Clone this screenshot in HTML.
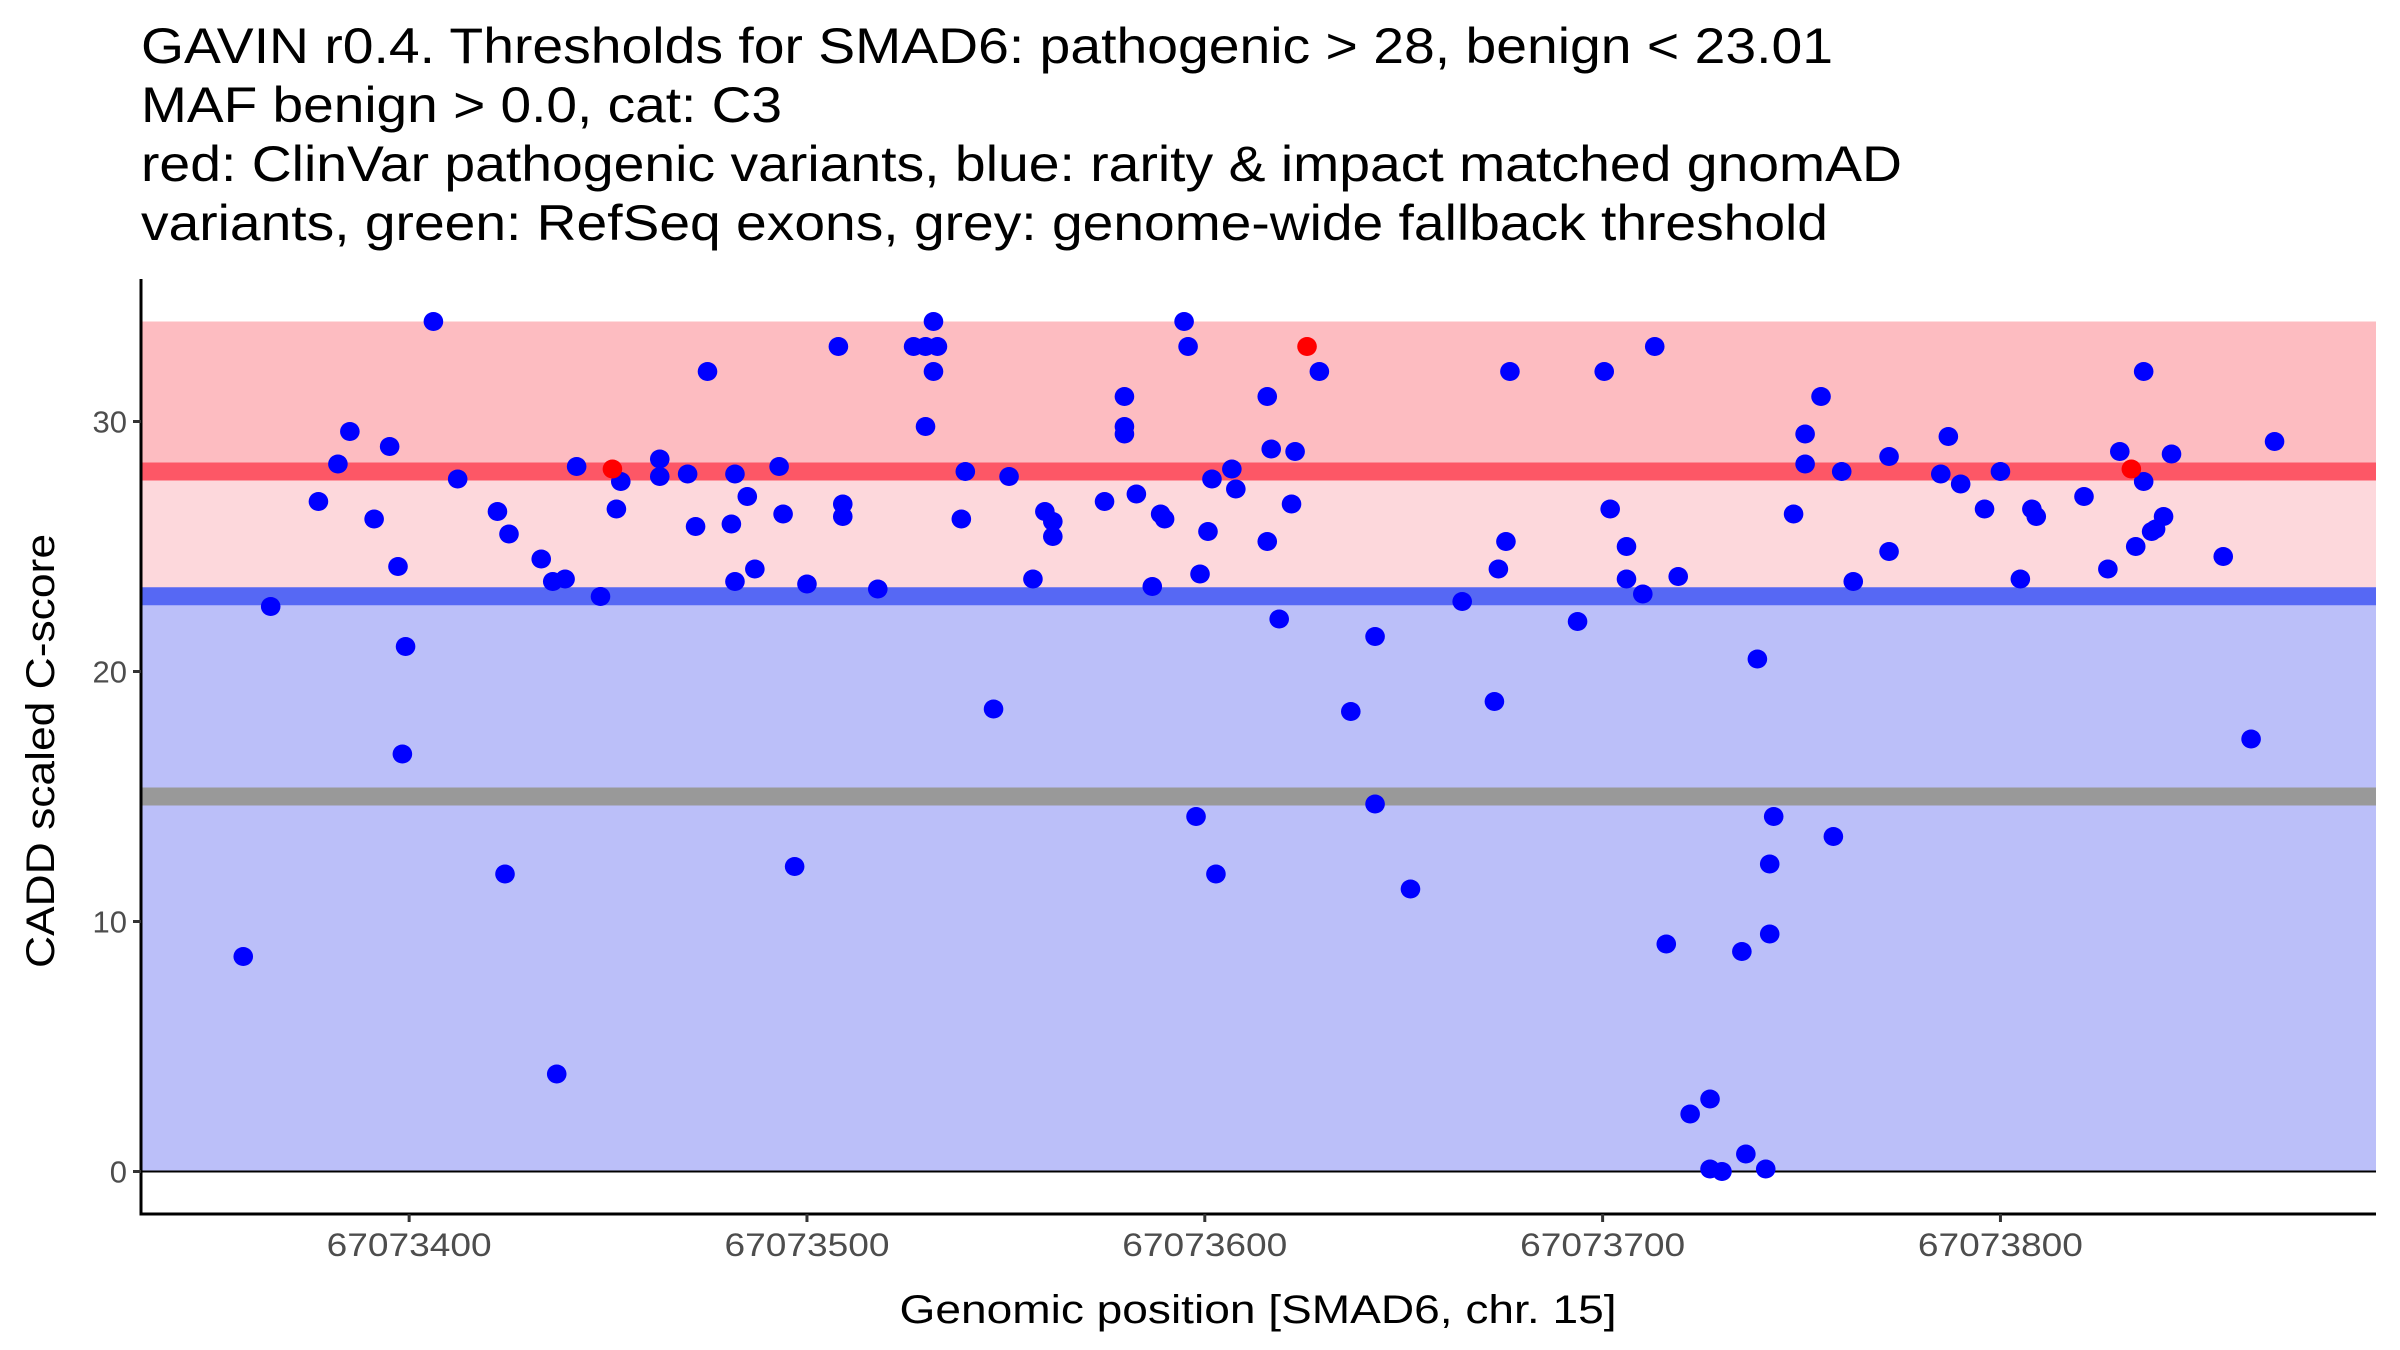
<!DOCTYPE html>
<html><head><meta charset="utf-8">
<style>
html,body{margin:0;padding:0;background:#fff;}
svg{display:block;font-family:"Liberation Sans",Arial,sans-serif;}
</style></head>
<body>
<svg id="chart" width="2400" height="1350" viewBox="0 0 2400 1350" xmlns="http://www.w3.org/2000/svg">
<rect width="2400" height="1350" fill="#fff"/>
<g font-size="50" fill="#000">
<text x="141" y="63" textLength="1692" lengthAdjust="spacingAndGlyphs">GAVIN r0.4. Thresholds for SMAD6: pathogenic &gt; 28, benign &lt; 23.01</text>
<text x="141" y="122" textLength="641" lengthAdjust="spacingAndGlyphs">MAF benign &gt; 0.0, cat: C3</text>
<text x="141" y="181" textLength="1761" lengthAdjust="spacingAndGlyphs">red: ClinVar pathogenic variants, blue: rarity &amp; impact matched gnomAD</text>
<text x="141" y="240" textLength="1687" lengthAdjust="spacingAndGlyphs">variants, green: RefSeq exons, grey: genome-wide fallback threshold</text>
</g>
<g id="bands"></g>
<g id="points"></g>
<g id="axes"></g>
<text x="1258" y="1323" font-size="40" text-anchor="middle" textLength="717" lengthAdjust="spacingAndGlyphs">Genomic position [SMAD6, chr. 15]</text>
<text transform="translate(54,751) rotate(-90)" font-size="40" text-anchor="middle" textLength="434" lengthAdjust="spacingAndGlyphs">CADD scaled C-score</text>
</svg>
<script>
const xOffset = 67073000;
const blueX = [358.3,365.2,377.2,382.1,385.1,391.2,395.1,397.2,399.1,398.3,406.1,412.2,422.2,424.1,425.1,433.2,436.1,437.1,439.2,442.1,448.1,452.1,453.2,463.0,463.0,470.0,472.0,475.0,481.0,481.9,481.9,485.0,486.9,493.0,494.0,496.9,
500.0,507.9,509.0,509.0,517.8,526.8,529.8,532.8,531.8,531.8,529.8,539.8,538.8,546.9,550.8,556.8,559.8,561.8,561.8,574.8,579.8,579.8,579.8,582.8,586.8,588.9,589.9,594.8,595.8,597.8,598.8,600.8,601.8,602.8,606.8,607.8,615.7,615.7,616.7,618.7,621.8,622.7,628.8,636.7,642.8,642.8,651.7,664.7,672.8,673.8,675.7,676.7,693.7,
700.4,701.9,706.0,706.0,710.1,713.1,716.0,719.0,722.0,727.0,727.0,730.0,735.0,736.0,738.9,741.0,742.0,742.0,743.0,748.0,750.9,750.9,754.9,758.0,760.1,763.0,772.0,772.0,785.0,786.9,790.0,796.0,800.0,805.0,807.9,809.0,821.0,827.0,830.0,834.0,836.0,836.0,838.0,839.0,841.0,843.0,856.0,863.0,868.9];
const blueY = [8.6,22.6,26.8,28.3,29.6,26.1,29.0,24.2,21.0,16.7,34.0,27.7,26.4,11.9,25.5,24.5,23.6,3.9,23.7,28.2,23.0,26.5,27.6,28.5,27.8,27.9,25.8,32.0,25.9,27.9,23.6,27.0,24.1,28.2,26.3,12.2,
23.5,33.0,26.7,26.2,23.3,33.0,33.0,33.0,34.0,32.0,29.8,28.0,26.1,18.5,27.8,23.7,26.4,26.0,25.4,26.8,31.0,29.8,29.5,27.1,23.4,26.3,26.1,34.0,33.0,14.2,23.9,25.6,27.7,11.9,28.1,27.3,31.0,25.2,28.9,22.1,26.7,28.8,32.0,18.4,21.4,14.7,11.3,22.8,18.8,24.1,25.2,32.0,22.0,
32.0,26.5,25.0,23.7,23.1,33.0,9.1,23.8,2.3,2.9,0.1,0.0,8.8,0.7,20.5,0.1,12.3,9.5,14.2,26.3,29.5,28.3,31.0,13.4,28.0,23.6,28.6,24.8,27.9,29.4,27.5,26.5,28.0,23.7,26.5,26.2,27.0,24.1,28.8,25.0,32.0,27.6,25.6,25.7,26.2,28.7,24.6,17.3,29.2];
const redX = [451.1,625.7,832.9];
const redY = [28.1,33.0,28.1];
const thresholds = {pathogenic:28, benign:23.01, fallback:15, top:34};
const xTicks = [67073400,67073500,67073600,67073700,67073800];
const yTicks = [0,10,20,30];

const NS="http://www.w3.org/2000/svg";
const L=141,R=2376,T=279,B=1214;
const xMin=67073332.6,xMax=67073894.4,yMin=-1.7,yMax=35.7;
function sx(v){return L+(v-xMin)/(xMax-xMin)*(R-L);}
function sy(v){return B-(v-yMin)/(yMax-yMin)*(B-T);}
function mk(tag,attrs,parent){const e=document.createElementNS(NS,tag);for(const k in attrs)e.setAttribute(k,attrs[k]);parent.appendChild(e);return e;}

const bands=document.getElementById('bands');
let e;
e=mk('rect',{x:L,y:sy(thresholds.top),width:R-L,height:sy(thresholds.benign)-sy(thresholds.top),fill:'#fdd8dc'},bands);


e=mk('rect',{x:L,y:sy(thresholds.top),width:R-L,height:sy(thresholds.pathogenic)-sy(thresholds.top),fill:'#fdbcc1'},bands);


e=mk('rect',{x:L,y:sy(thresholds.benign),width:R-L,height:sy(0)-sy(thresholds.benign),fill:'#bbbff9'},bands);


e=mk('rect',{x:L,y:sy(thresholds.pathogenic)-9,width:R-L,height:18,fill:'#fd5766'},bands);


e=mk('rect',{x:L,y:sy(thresholds.benign)-9,width:R-L,height:18,fill:'#5668f4'},bands);


e=mk('rect',{x:L,y:sy(thresholds.fallback)-9,width:R-L,height:18,fill:'#999999'},bands);


e=mk('line',{x1:L,x2:R,y1:sy(0),y2:sy(0),stroke:'#000','stroke-width':2},bands);



const pts=document.getElementById('points');
for(let i=0;i<blueX.length;i++){
  const c=mk('ellipse',{cx:sx(xOffset+blueX[i]),cy:sy(blueY[i]),rx:9.8,ry:9.5,fill:'#0000ff'},pts);
  
  
}
for(let i=0;i<redX.length;i++){
  const c=mk('ellipse',{cx:sx(xOffset+redX[i]),cy:sy(redY[i]),rx:9.8,ry:9.5,fill:'#ff0000'},pts);
  
  
}

const ax=document.getElementById('axes');
e=mk('line',{x1:L,x2:L,y1:T,y2:B+1.5,stroke:'#000','stroke-width':3},ax);


e=mk('line',{x1:L-1.5,x2:R,y1:B,y2:B,stroke:'#000','stroke-width':3},ax);


yTicks.forEach(v=>{
  const t=mk('line',{x1:L-8,x2:L,y1:sy(v),y2:sy(v),stroke:'#333','stroke-width':3},ax);
  
  
  const lb=mk('text',{x:L-14,y:sy(v)+11,'font-size':31,fill:'#4d4d4d','text-anchor':'end'},ax);
  lb.textContent=String(v);
  
  
});
xTicks.forEach(v=>{
  const t=mk('line',{x1:sx(v),x2:sx(v),y1:B,y2:B+8,stroke:'#333','stroke-width':3},ax);
  
  
  const lb=mk('text',{x:sx(v),y:B+42,'font-size':32,fill:'#4d4d4d','text-anchor':'middle',textLength:165,lengthAdjust:'spacingAndGlyphs'},ax);
  lb.textContent=String(v);
  
  
});
</script>
</body></html>
